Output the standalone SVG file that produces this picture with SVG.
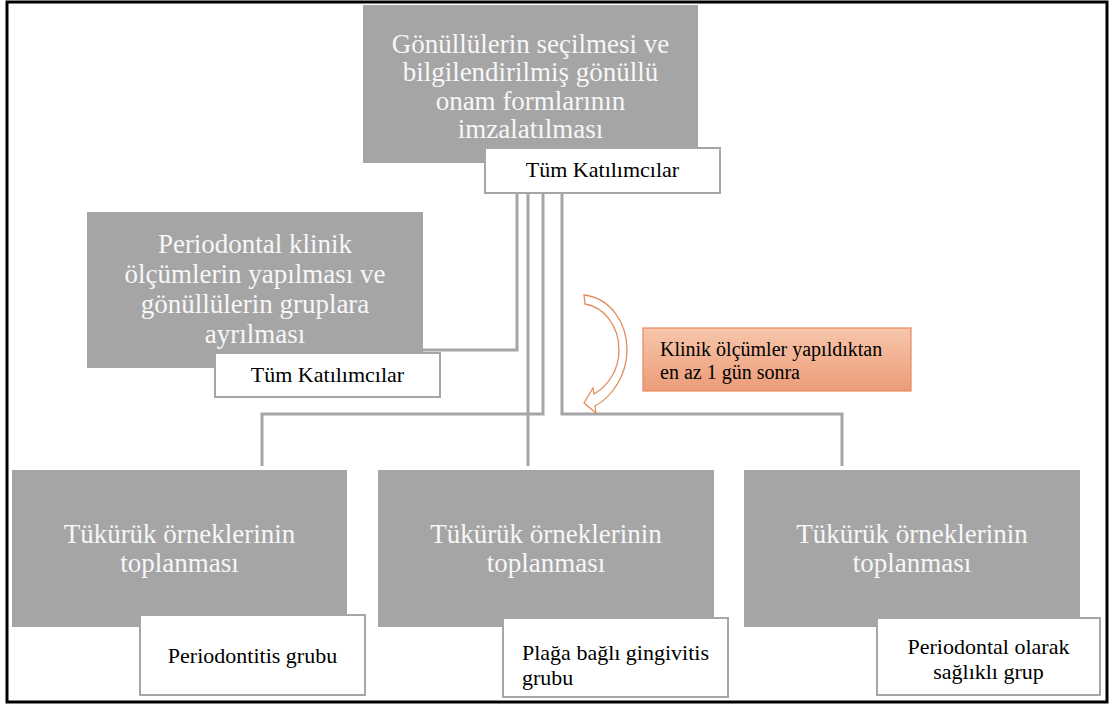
<svg xmlns="http://www.w3.org/2000/svg" width="1115" height="709" viewBox="0 0 1115 709">
<defs>
<linearGradient id="og" x1="0" y1="0" x2="0" y2="1">
<stop offset="0" stop-color="#f7c6ab"/>
<stop offset="1" stop-color="#ec9c78"/>
</linearGradient>
<style>
.box{fill:#a5a5a5;}
.gt{font-family:"Liberation Serif","Times New Roman",serif;font-size:27px;fill:#f7f7f7;text-anchor:middle;}
.lab{fill:#ffffff;stroke:#a6a6a6;stroke-width:2;}
.lt{font-family:"Liberation Serif","Times New Roman",serif;font-size:22px;fill:#000000;}
.nt{font-family:"Liberation Serif","Times New Roman",serif;font-size:20px;fill:#000000;}
.c{text-anchor:middle;}
.con{fill:none;stroke:#a6a6a6;stroke-width:3;}
</style>
</defs>
<rect x="0" y="0" width="1115" height="709" fill="#ffffff"/>
<rect x="7" y="2" width="1100" height="700" fill="none" stroke="#000000" stroke-width="3"/>

<g id="connectors">
<path class="con" d="M517,193 V350 H423"/>
<path class="con" d="M528,193 V466"/>
<path class="con" d="M543,193 V414 H262 V466"/>
<path class="con" d="M562,193 V414 H842 V466"/>
</g>

<g id="node-top">
<rect class="box" x="363" y="5" width="335" height="158"/>
<text class="gt" x="530.5" y="52.5">Gönüllülerin seçilmesi ve</text>
<text class="gt" x="530.5" y="81">bilgilendirilmiş gönüllü</text>
<text class="gt" x="530.5" y="109.5">onam formlarının</text>
<text class="gt" x="530.5" y="138">imzalatılması</text>
<rect class="lab" x="485" y="148" width="235" height="45"/>
<text class="lt c" x="602.5" y="177">Tüm Katılımcılar</text>
</g>

<g id="node-clinical">
<rect class="box" x="87" y="212" width="336" height="156"/>
<text class="gt" x="255" y="253">Periodontal klinik</text>
<text class="gt" x="255" y="283">ölçümlerin yapılması ve</text>
<text class="gt" x="255" y="313">gönüllülerin gruplara</text>
<text class="gt" x="255" y="343">ayrılması</text>
<rect class="lab" x="215" y="353" width="225" height="44"/>
<text class="lt c" x="327.5" y="382">Tüm Katılımcılar</text>
</g>

<g id="note">
<path d="M584,295 C610,298 627,322 627,350 C627,375 612,397 595,406 L596,413 L584,403 L593,388 L594,394 C608,386 619,370 619,350 C619,326 604,307 585,304 Z" fill="#ffffff" stroke="#e38d5f" stroke-width="1.3"/>
<rect x="643" y="328" width="268" height="63" fill="url(#og)" stroke="#e8895c" stroke-width="1.2"/>
<text class="nt" x="660" y="356">Klinik ölçümler yapıldıktan</text>
<text class="nt" x="660" y="379">en az 1 gün sonra</text>
</g>

<g id="node-periodontitis">
<rect class="box" x="12" y="470" width="335" height="157"/>
<text class="gt" x="179.5" y="543">Tükürük örneklerinin</text>
<text class="gt" x="179.5" y="572">toplanması</text>
<rect class="lab" x="140" y="615" width="225" height="80"/>
<text class="lt c" x="252.5" y="663">Periodontitis grubu</text>
</g>

<g id="node-gingivitis">
<rect class="box" x="378" y="470" width="336" height="157"/>
<text class="gt" x="546" y="543">Tükürük örneklerinin</text>
<text class="gt" x="546" y="572">toplanması</text>
<rect class="lab" x="503" y="618" width="225" height="79"/>
<text class="lt" x="522" y="660">Plağa bağlı gingivitis</text>
<text class="lt" x="522" y="685">grubu</text>
</g>

<g id="node-healthy">
<rect class="box" x="744" y="470" width="336" height="157"/>
<text class="gt" x="912" y="543">Tükürük örneklerinin</text>
<text class="gt" x="912" y="572">toplanması</text>
<rect class="lab" x="877" y="618" width="223" height="77"/>
<text class="lt c" x="988.5" y="654">Periodontal olarak</text>
<text class="lt c" x="988.5" y="679">sağlıklı grup</text>
</g>
</svg>
